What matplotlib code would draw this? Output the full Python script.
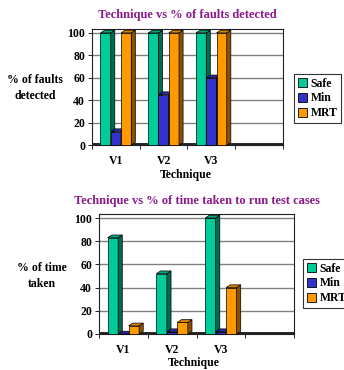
import matplotlib
matplotlib.use("Agg")
import matplotlib.pyplot as plt
from matplotlib.patches import Polygon, Patch
import numpy as np

categories = ["V1", "V2", "V3", ""]
series_names = ["Safe", "Min", "MRT"]
faults_safe = [100, 100, 100, 0]
faults_min = [12, 45, 60, 0]
faults_mrt = [100, 100, 100, 0]
time_safe = [83, 52, 100, 0]
time_min = [0, 2, 2, 0]
time_mrt = [7, 10, 40, 0]
yticks = [0, 20, 40, 60, 80, 100]

face_colors = ["#00CC99", "#3333CC", "#FF9900"]
side_colors = ["#006B50", "#1A1A80", "#8A5200"]
top_colors = ["#00A67C", "#2A2AA8", "#D98200"]

plt.rcParams['font.family'] = ['Liberation Serif', 'DejaVu Serif']
plt.rcParams['font.weight'] = 'bold'

fig = plt.figure(figsize=(3.44, 3.70), dpi=100)
W, H = 344, 370


def axes_px(x0, x1, ytop, ybot):
    return fig.add_axes([x0 / W, (H - ybot) / H, (x1 - x0) / W, (ybot - ytop) / H])


def draw_chart(ax, series, title, ylabel, ylab_x, title_y, xlab):
    n = len(categories)
    x = np.arange(n)
    w = 0.215
    dx = 0.085
    dy = 2.4
    ax.set_xlim(-0.5, n - 0.5)
    ax.set_ylim(0, 103.5)
    for yy in yticks[1:]:
        ax.axhline(yy, color="#808080", lw=1.0, zorder=0)
    for si, vals in enumerate(series):
        off = (si - 1) * w
        for xi, v in zip(x, vals):
            if xi >= 3:
                continue
            left = xi + off - w / 2
            right = left + w
            kw = dict(closed=True, edgecolor="black", lw=0.5, zorder=3 + si, clip_on=False)
            ax.add_patch(Polygon([(left, 0), (right, 0), (right, v), (left, v)],
                                 facecolor=face_colors[si], **kw))
            ax.add_patch(Polygon([(right, 0), (right + dx, dy), (right + dx, v + dy), (right, v)],
                                 facecolor=side_colors[si], **kw))
            ax.add_patch(Polygon([(left, v), (right, v), (right + dx, v + dy), (left + dx, v + dy)],
                                 facecolor=top_colors[si], **kw))
    # floor
    ax.add_patch(Polygon([(-0.5, 0), (n - 0.5, 0), (n - 0.5, dy * 0.8), (-0.5, dy * 0.8)],
                         closed=True, facecolor="#222222", edgecolor="black", lw=0.5, zorder=2))
    ax.set_yticks(yticks)
    ax.set_yticklabels([str(t) for t in yticks], fontsize=8.5, fontweight="bold")
    ax.set_xticks(x)
    ax.set_xticklabels(categories, fontsize=8.5, fontweight="bold")
    ax.tick_params(axis="x", length=0, pad=7)
    ax.set_xticks(np.arange(-0.5, n, 1.0), minor=True)
    ax.tick_params(axis="x", which="minor", length=3, width=0.6)
    ax.tick_params(axis="y", length=3, width=0.6, pad=2)
    for s in ax.spines.values():
        s.set_linewidth(0.8)
        s.set_color("#222222")
    fig.text(xlab[0] / W, 1 - xlab[1] / H, "Technique", ha="center", va="center",
             fontsize=8.5, fontweight="bold")
    fig.text(ylab_x / W, 1 - ylabel[1] / H, ylabel[0], ha="center", va="center",
             fontsize=8.5, fontweight="bold", linespacing=1.45)
    fig.text(ax.get_position().x0 + ax.get_position().width / 2, 1 - title_y / H, title,
             ha="center", va="center", fontsize=9, fontweight="bold", color="#8B1A8B")


ax1 = axes_px(92, 283, 29, 145)
draw_chart(ax1, [faults_safe, faults_min, faults_mrt], "Technique vs % of faults detected",
           ("% of faults\ndetected", 88), 35, 15, (186, 175))
ax2 = axes_px(99, 294, 214, 334)
draw_chart(ax2, [time_safe, time_min, time_mrt], "Technique vs % of time taken to run test cases",
           ("% of time\ntaken", 276), 42, 201, (194, 363))

handles = [Patch(facecolor=c, edgecolor="black", lw=0.6) for c in face_colors]
for (lx, ly) in [(294, 74), (303, 259)]:
    leg = fig.legend(handles, series_names, loc="upper left",
                     bbox_to_anchor=(lx / W, 1 - ly / H), frameon=True, fancybox=False,
                     edgecolor="black", fontsize=8.5, handlelength=0.8, handleheight=0.8,
                     handletextpad=0.3, borderpad=0.3, labelspacing=0.25, borderaxespad=0)
    leg.get_frame().set_linewidth(0.8)
    for t in leg.get_texts():
        t.set_fontweight("bold")

fig.savefig("out.png", dpi=100)
